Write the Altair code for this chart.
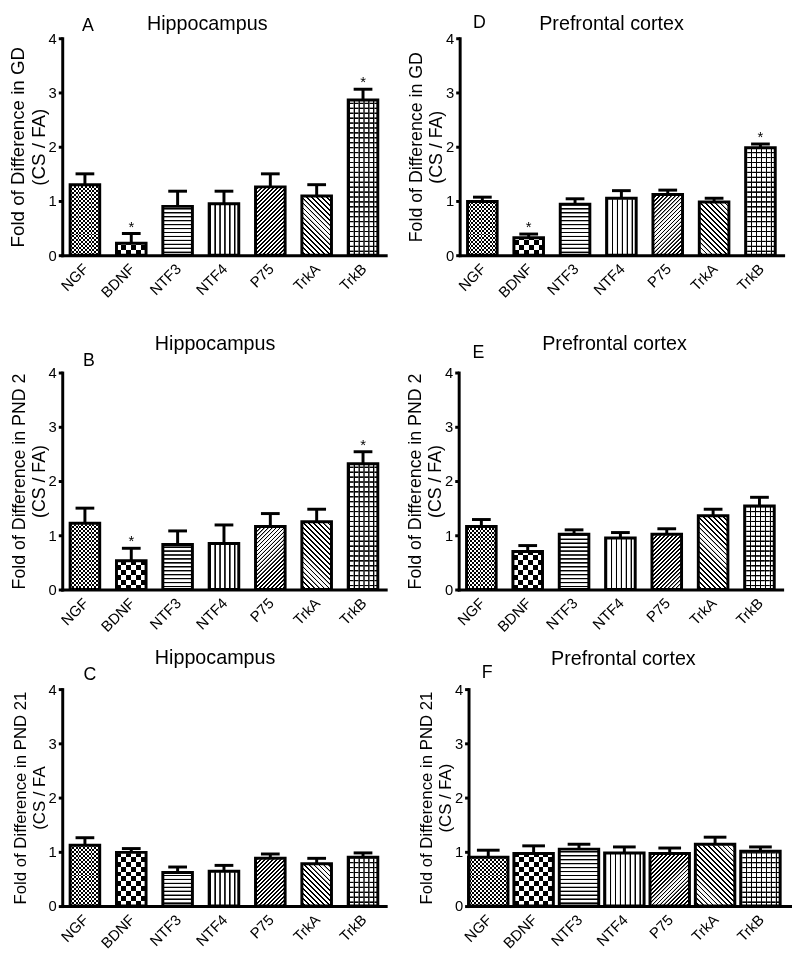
import altair as alt
import pandas as pd

# ---------------- data ----------------
genes = ["NGF", "BDNF", "NTF3", "NTF4", "P75", "TrkA", "TrkB"]

# A  Hippocampus, GD
hip_gd_mean = [1.30, 0.22, 0.90, 0.95, 1.26, 1.09, 2.86]
hip_gd_sem = [0.20, 0.18, 0.28, 0.23, 0.24, 0.21, 0.20]
hip_gd_star = [0, 1, 0, 0, 0, 0, 1]
# B  Hippocampus, PND 2
hip_p2_mean = [1.22, 0.53, 0.83, 0.85, 1.16, 1.25, 2.32]
hip_p2_sem = [0.28, 0.23, 0.25, 0.34, 0.24, 0.23, 0.22]
hip_p2_star = [0, 1, 0, 0, 0, 0, 1]
# C  Hippocampus, PND 21
hip_p21_mean = [1.12, 0.99, 0.62, 0.64, 0.88, 0.78, 0.90]
hip_p21_sem = [0.14, 0.07, 0.10, 0.11, 0.08, 0.10, 0.08]
hip_p21_star = [0, 0, 0, 0, 0, 0, 0]
# D  Prefrontal cortex, GD
pfc_gd_mean = [0.99, 0.32, 0.94, 1.05, 1.12, 0.98, 1.98]
pfc_gd_sem = [0.08, 0.07, 0.10, 0.14, 0.08, 0.07, 0.07]
pfc_gd_star = [0, 1, 0, 0, 0, 0, 1]
# E  Prefrontal cortex, PND 2
pfc_p2_mean = [1.16, 0.70, 1.02, 0.95, 1.02, 1.36, 1.54]
pfc_p2_sem = [0.13, 0.11, 0.08, 0.10, 0.10, 0.12, 0.16]
pfc_p2_star = [0, 0, 0, 0, 0, 0, 0]
# F  Prefrontal cortex, PND 21
pfc_p21_mean = [0.90, 0.97, 1.05, 0.98, 0.97, 1.14, 1.01]
pfc_p21_sem = [0.13, 0.14, 0.09, 0.11, 0.10, 0.13, 0.08]
pfc_p21_star = [0, 0, 0, 0, 0, 0, 0]

y_ticks = [0, 1, 2, 3, 4]

# ---------------- style ----------------
FONT = "Liberation Sans"
W = 328
H = 220
CLEAR = "rgba(255,255,255,0)"


def stops(length, period, on_w, ramp, on, off):
    """Stripe stops along a gradient of `length` px: lines `on_w` px wide
    with soft `ramp` px edges, repeated every `period` px."""
    n = max(1, round(length / period))
    p = length / n
    out = []
    for i in range(n):
        s = i * p
        pts = [(s, off), (s + ramp, on), (s + ramp + on_w, on),
               (s + 2 * ramp + on_w, off), (s + p, off)]
        for pos, col in pts:
            out.append({"offset": round(min(pos / length, 1.0), 5), "color": col})
    return out


def horiz(period, on_w, ramp, on="black", off="white"):
    return {"gradient": "linear", "x1": 0, "y1": 0, "x2": 0, "y2": 1,
            "stops": stops(H, period, on_w, ramp, on, off)}


def vert(bw, period, on_w, ramp, on="black", off="white"):
    return {"gradient": "linear", "x1": 0, "y1": 0, "x2": 1, "y2": 0,
            "stops": stops(bw, period, on_w, ramp, on, off)}


def diag(bw, period, on_w, ramp, forward, on="black", off="white"):
    k = (bw + H) / (bw ** 2 + H ** 2)
    if forward:
        g = {"x1": 0, "y1": 0, "x2": bw * k, "y2": H * k}
    else:
        g = {"x1": 1, "y1": 0, "x2": 1 - bw * k, "y2": H * k}
    g.update({"gradient": "linear", "stops": stops(bw + H, period, on_w, ramp, on, off)})
    return g


def patterns(bw):
    return {
        "NGF": [(horiz(4, 2, 0), None), (vert(bw, 4, 2, 0, "white", CLEAR), "difference")],
        "BDNF": [(horiz(10, 5, 0), None), (vert(bw, 10, 5, 0, "white", CLEAR), "difference")],
        "NTF3": [(horiz(4, 0.8, 0.6), None)],
        "NTF4": [(vert(bw, 5, 0.8, 0.6), None)],
        "P75": [(diag(bw, 4, 1.6, 0.2, True), None)],
        "TrkA": [(diag(bw, 5, 1.6, 0.2, False), None)],
        "TrkB": [(horiz(5, 0.8, 0.6), None), (vert(bw, 5, 0.8, 0.6, "black", CLEAR), None)],
    }


def panel(mean, sem, star, letter, title, ytitle, ytitle_size, step, bw, align,
          cap, tx, ty, lx, ly):
    df = pd.DataFrame({
        "gene": genes,
        "mean": mean,
        "err": [m + s for m, s in zip(mean, sem)],
        "star": star,
    })
    pin = (step - bw) / step
    pout = (W / step - (len(genes) - pin)) / 2

    xs = alt.Scale(paddingInner=pin, paddingOuter=pout, align=align)
    xaxis = alt.Axis(title=None, labelAngle=-45, labelAlign="right", labelBaseline="top",
                     labelFont=FONT, labelFontSize=15, labelColor="black", ticks=False,
                     domainColor="black", domainWidth=3, domainCap="square", labelPadding=6,
                     labelOffset=-4, zindex=1)
    x = alt.X("gene:N", sort=genes, scale=xs, axis=xaxis)

    ys = alt.Scale(domain=[0, 4], nice=False)
    yaxis = alt.Axis(title=ytitle, values=y_ticks, format="d", grid=False,
                     tickSize=4, tickWidth=3, tickColor="black",
                     domainColor="black", domainWidth=3, domainCap="square",
                     labelFont=FONT, labelFontSize=15, labelColor="black", labelPadding=2,
                     titleFont=FONT, titleFontSize=ytitle_size, titleFontWeight="normal",
                     titleColor="black", titleLineHeight=ytitle_size + 2, titlePadding=0,
                     zindex=1)

    base = alt.Chart(df)
    layers = []
    pats = patterns(bw)
    for g in genes:
        for grad, blend in pats[g]:
            kw = {"fill": grad, "strokeWidth": 0}
            if blend:
                kw["blend"] = blend
            layers.append(
                base.transform_filter(alt.datum.gene == g).mark_bar(**kw).encode(
                    x=x,
                    y=alt.Y(datum=4, type="quantitative", scale=ys, axis=yaxis),
                    y2=alt.Y2(datum=0),
                )
            )
    # white cover above each bar's value
    layers.append(base.mark_bar(fill="white", stroke="white", strokeWidth=2).encode(
        x=x, y=alt.Y("mean:Q", scale=ys, axis=yaxis), y2=alt.Y2(datum=4)))
    # bar outlines
    layers.append(base.mark_bar(fillOpacity=0, stroke="black", strokeWidth=3).encode(
        x=x, y=alt.Y("mean:Q", scale=ys, axis=yaxis), y2=alt.Y2(datum=0)))
    # error bars
    layers.append(base.mark_rule(color="black", strokeWidth=3).encode(
        x=x, y=alt.Y("mean:Q", scale=ys, axis=yaxis), y2="err:Q"))
    layers.append(base.mark_tick(color="black", thickness=3, size=cap, opacity=1).encode(
        x=x, y=alt.Y("err:Q", scale=ys, axis=yaxis)))
    # significance stars
    layers.append(base.transform_filter(alt.datum.star == 1).mark_text(
        text="*", font=FONT, fontSize=15, color="black", baseline="alphabetic", dy=-2).encode(
        x=x, y=alt.Y("err:Q", scale=ys, axis=yaxis)))
    # panel letter and panel title
    lab = pd.DataFrame({"letter": [letter], "title": [title]})
    layers.append(alt.Chart(lab).mark_text(
        font=FONT, fontSize=18, color="black", align="center", baseline="top").encode(
        text="letter:N", x=alt.value(lx), y=alt.value(ly)))
    layers.append(alt.Chart(lab).mark_text(
        font=FONT, fontSize=20, color="black", align="center", baseline="top").encode(
        text="title:N", x=alt.value(tx), y=alt.value(ty)))

    return alt.layer(*layers).properties(width=W, height=H)


pA = panel(hip_gd_mean, hip_gd_sem, hip_gd_star, "A", "Hippocampus",
           ["Fold of Difference in GD", "(CS / FA)"], 19, 47, 30, 0.5, 19, 147, -24, 26, -21)
pD = panel(pfc_gd_mean, pfc_gd_sem, pfc_gd_star, "D", "Prefrontal cortex",
           ["Fold of Difference in GD", "(CS / FA)"], 18, 47, 30, 0.5, 19, 154, -24, 20, -24)
pB = panel(hip_p2_mean, hip_p2_sem, hip_p2_star, "B", "Hippocampus",
           ["Fold of Difference in PND 2", "(CS / FA)"], 18, 47, 30, 0.5, 19, 155, -39, 27, -21)
pE = panel(pfc_p2_mean, pfc_p2_sem, pfc_p2_star, "E", "Prefrontal cortex",
           ["Fold of Difference in PND 2", "(CS / FA)"], 18, 47, 30, 0.5, 19, 158, -39, 20, -29)
pC = panel(hip_p21_mean, hip_p21_sem, hip_p21_star, "C", "Hippocampus",
           ["Fold of Difference in PND 21", "(CS / FA"], 17, 47, 30, 0.5, 19, 155, -41, 28, -23)
pF = panel(pfc_p21_mean, pfc_p21_sem, pfc_p21_star, "F", "Prefrontal cortex",
           ["Fold of Difference in PND 21", "(CS / FA)"], 17, 46, 40, 0.0, 23, 157, -40, 19, -25)

# with flush bounds, nested rows count as zero height: spacing = row-to-row offset
row1 = alt.hconcat(pA, pD, spacing=75, bounds="flush")
row2 = alt.hconcat(pB, pE, spacing=74, bounds="flush")
row3 = alt.hconcat(pC, pF, spacing=84, bounds="flush")
lower = alt.vconcat(row2, row3, spacing=321, bounds="flush")

chart = alt.vconcat(row1, lower, spacing=339, bounds="flush").configure_view(
    stroke=None).properties(padding=0, background="white")

chart.save("out.html", embed_options={"renderer": "svg", "actions": False})
